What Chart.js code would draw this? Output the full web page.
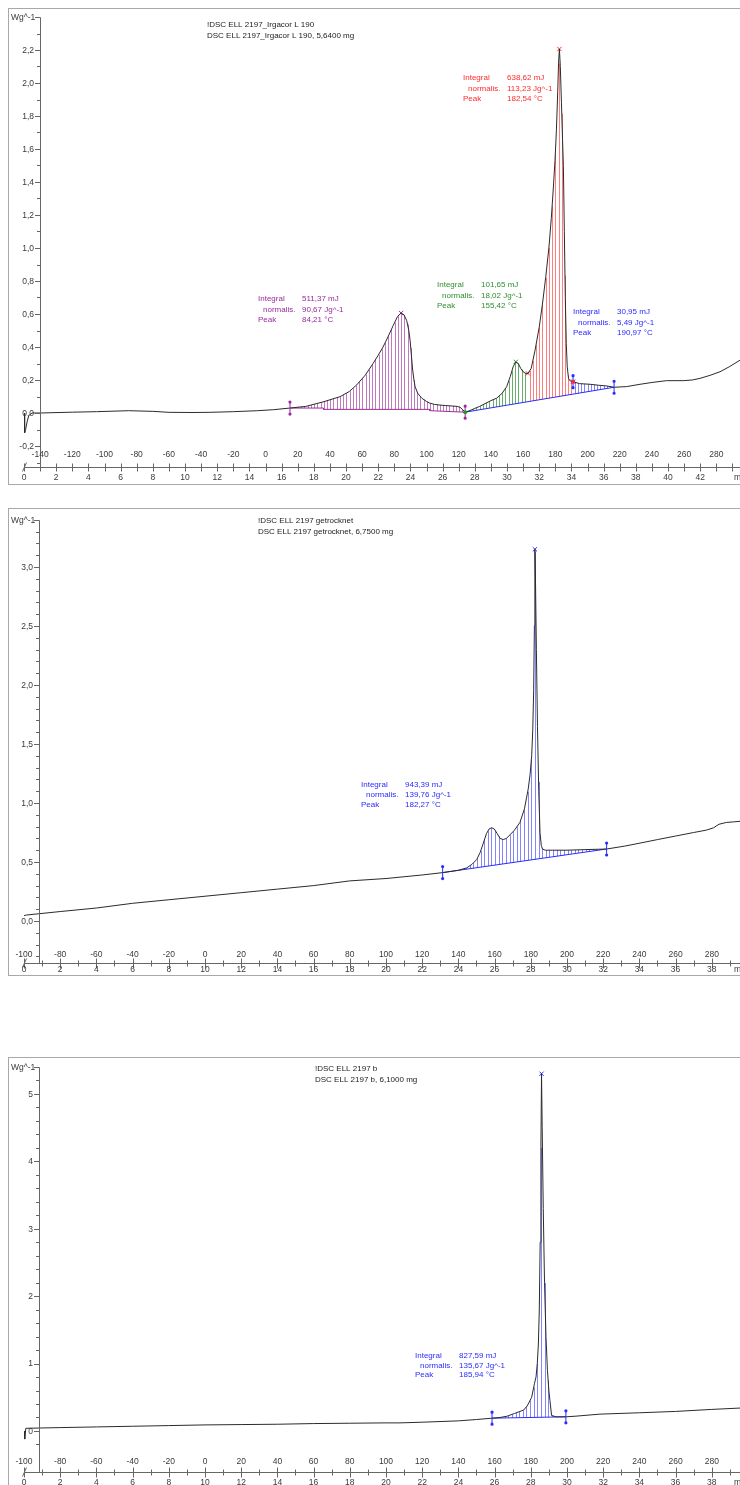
<!DOCTYPE html>
<html><head><meta charset="utf-8">
<script src="https://cdn.jsdelivr.net/npm/chart.js@4.4.1/dist/chart.umd.min.js"></script>
<style>
html,body{margin:0;padding:0;background:#fff;}
body{width:740px;height:1485px;overflow:hidden;position:relative;}
canvas{position:absolute;left:0;}
</style></head><body>
<canvas id="c1" width="740" height="495" style="top:0px"></canvas>
<canvas id="c2" width="740" height="490" style="top:495px"></canvas>
<canvas id="c3" width="740" height="500" style="top:985px"></canvas>
<script>
// ---------------- DATA ----------------
// Panel 1 : DSC ELL 2197_Irgacor L 190 (temperature in °C, heat flow in W/g)
const temp1 = [-150,-149.6,-149,-148,-147,-145,-140,-120,-105,-85,-70,-60,-45,-35,-20,-5,5,15.2,25,35.7,46.3,52,56.6,62,66.8,70,73,76,79.3,82,84.2,86,87.7,89,89.8,90.6,91.4,92.2,92.9,94.5,97,100,102,105,108.4,112,116.5,119,120.8,122.5,124,127,130,133,137,140,143.6,147,149.8,152,153.8,155.4,157,158.5,160,161.5,163,165,167.4,170,172,174,176,177.5,178.8,179.8,180.7,181.5,182,182.54,183.1,183.8,184.5,185,185.6,186.2,186.8,187.4,188.2,189.1,191,195,201.6,207,211.9,216.5,224.3,232.6,240,249,259.4,265,269.9,276,282.3,288,294.7];
const flow1 = [0,-0.12,-0.1,-0.05,-0.015,0,0,0.005,0.008,0.014,0.01,0.004,0.003,0.004,0.008,0.014,0.02,0.03,0.04,0.067,0.099,0.13,0.17,0.23,0.30,0.35,0.40,0.46,0.53,0.585,0.606,0.595,0.56,0.50,0.44,0.35,0.26,0.20,0.16,0.12,0.09,0.07,0.06,0.052,0.048,0.045,0.042,0.04,0.035,0.02,0.005,0.015,0.028,0.04,0.06,0.075,0.09,0.12,0.16,0.22,0.28,0.31,0.30,0.27,0.25,0.24,0.24,0.27,0.38,0.52,0.66,0.82,1.0,1.18,1.37,1.53,1.72,1.95,2.12,2.206,2.1,1.88,1.65,1.50,1.1,0.7,0.42,0.28,0.21,0.195,0.19,0.178,0.174,0.168,0.164,0.156,0.16,0.174,0.185,0.196,0.196,0.20,0.21,0.228,0.25,0.28,0.32];
const purpleBaseT1 = [15.2,36,36.01,102,102.01,124];
const purpleBaseV1 = [0.03,0.03,0.022,0.022,0.014,0.005];
const blueBaseT1 = [124,216.5];
const blueBaseV1 = [0.005,0.156];
const purpleText1 = ['511,37 mJ','90,67 Jg^-1','84,21 °C'];
const greenText1  = ['101,65 mJ','18,02 Jg^-1','155,42 °C'];
const redText1    = ['638,62 mJ','113,23 Jg^-1','182,54 °C'];
const blueText1   = ['30,95 mJ','5,49 Jg^-1','190,97 °C'];
const yTicks1  = [-0.2,0,0.2,0.4,0.6,0.8,1.0,1.2,1.4,1.6,1.8,2.0,2.2];
const yLabels1 = ['-0,2','0,0','0,2','0,4','0,6','0,8','1,0','1,2','1,4','1,6','1,8','2,0','2,2'];
const tempTicks1 = [-140,-120,-100,-80,-60,-40,-20,0,20,40,60,80,100,120,140,160,180,200,220,240,260,280];
const timeTicks1 = [0,2,4,6,8,10,12,14,16,18,20,22,24,26,28,30,32,34,36,38,40,42];

// Panel 2 : DSC ELL 2197 getrocknet
const temp2 = [-100,-99,-80,-60,-40,-20,0,20,40,60,80,100,120,131.3,140,144.6,147.5,150.1,152,153.8,155.5,157,158.4,159.8,161.5,163,164.8,166.5,168.5,171,174,176.5,178.6,179.6,180.5,181.1,181.6,182.0,182.27,182.6,183.1,183.7,184.4,185.1,185.8,186.5,188,192,200,210,221.9,232,240.3,250,260,270,277,281,284,288,292,295.6];
const flow2 = [0.045,0.05,0.08,0.11,0.15,0.18,0.21,0.24,0.27,0.30,0.34,0.36,0.39,0.41,0.43,0.45,0.48,0.52,0.58,0.66,0.74,0.78,0.79,0.78,0.74,0.70,0.69,0.70,0.73,0.77,0.835,0.95,1.12,1.24,1.40,1.62,1.95,2.5,3.15,2.9,2.3,1.65,1.1,0.75,0.64,0.61,0.60,0.60,0.60,0.605,0.61,0.635,0.66,0.69,0.72,0.75,0.77,0.79,0.82,0.835,0.84,0.845];
const baseT2 = [131.3,221.9];
const baseV2 = [0.41,0.61];
const blueText2 = ['943,39 mJ','139,76 Jg^-1','182,27 °C'];
const yTicks2  = [0,0.5,1.0,1.5,2.0,2.5,3.0];
const yLabels2 = ['0,0','0,5','1,0','1,5','2,0','2,5','3,0'];
const tempTicks2 = [-100,-80,-60,-40,-20,0,20,40,60,80,100,120,140,160,180,200,220,240,260,280];
const timeTicks2 = [0,2,4,6,8,10,12,14,16,18,20,22,24,26,28,30,32,34,36,38];

// Panel 3 : DSC ELL 2197 b
const temp3 = [-100,-99.6,-99,-80,-60,-40,-20,0,20,40,60,80,100,107.7,120,140,150,158.6,163,167,171,174,176,178,180.5,182,182.9,183.6,184.2,184.7,185.2,185.6,185.94,186.3,186.9,187.6,188.4,189.2,190,190.6,191.5,194,199.4,205,218.2,240,260,280,295.6];
const flow3 = [0.0,-0.12,0.04,0.05,0.06,0.07,0.08,0.09,0.095,0.10,0.11,0.115,0.12,0.12,0.13,0.15,0.17,0.19,0.2,0.22,0.26,0.29,0.31,0.37,0.5,0.7,0.8,1.0,1.29,1.78,2.8,4.2,5.3,4.5,3.3,2.2,1.4,0.9,0.6,0.45,0.23,0.21,0.21,0.22,0.25,0.27,0.29,0.32,0.34];
const baseT3 = [158.6,199.4];
const baseV3 = [0.19,0.21];
const blueText3 = ['827,59 mJ','135,67 Jg^-1','185,94 °C'];
const yTicks3  = [0,1,2,3,4,5];
const yLabels3 = ['0','1','2','3','4','5'];
const tempTicks3 = tempTicks2;
const timeTicks3 = timeTicks2;

// ---------------- DRAWING ----------------
const FONT = '"Liberation Sans", Arial, Helvetica, sans-serif';
const INK = '#3a3a3a';
const PURPLE = '#9c2a9c', GREEN = '#2f8f2f', RED = '#ff2a2a', BLUE = '#2a2aff';
const HATCH = {purple:'rgba(160,50,160,0.65)', green:'rgba(40,140,40,0.7)', red:'rgba(255,70,70,0.7)', blue:'rgba(50,50,255,0.6)'};

function interp(xs, ys, x) {
  if (x <= xs[0]) return ys[0];
  for (let i = 1; i < xs.length; i++) {
    if (x <= xs[i]) { const f = (x - xs[i-1]) / (xs[i] - xs[i-1]); return ys[i-1] + f * (ys[i] - ys[i-1]); }
  }
  return ys[ys.length-1];
}
function rangeTicks(a, b, s) { const r = []; for (let v = a; v <= b + 1e-9; v += s) r.push(Math.round(v*1000)/1000); return r; }

function makeChart(id, c) {
  const plugin = {
    id: 'dsc_' + id,
    beforeDatasetsDraw(chart) {
      const ctx = chart.ctx, x = chart.scales.x, y = chart.scales.y;
      ctx.save(); ctx.lineWidth = 1;
      for (const r of c.regions) {
        ctx.strokeStyle = r.hatch; ctx.beginPath();
        for (let T = r.from + c.step/2; T < r.to; T += c.step) {
          const px = Math.round(x.getPixelForValue(T)) + 0.5;
          ctx.moveTo(px, y.getPixelForValue(interp(c.curveT, c.curveV, T)));
          ctx.lineTo(px, y.getPixelForValue(interp(r.baseT, r.baseV, T)));
        }
        ctx.stroke();
      }
      ctx.restore();
    },
    afterDraw(chart) {
      const ctx = chart.ctx, x = chart.scales.x, y = chart.scales.y;
      ctx.save();
      // frame
      ctx.strokeStyle = '#a8a8a8'; ctx.lineWidth = 1;
      ctx.strokeRect(c.frame[0] + 0.5, c.frame[1] + 0.5, 900, c.frame[2] - c.frame[1]);
      // limit markers
      for (const m of c.limits) {
        const px = x.getPixelForValue(m.T), py = y.getPixelForValue(interp(c.curveT, c.curveV, m.T));
        ctx.strokeStyle = m.color; ctx.fillStyle = m.color;
        ctx.beginPath(); ctx.moveTo(px, py - 6); ctx.lineTo(px, py + 6); ctx.stroke();
        ctx.beginPath(); ctx.arc(px, py - 6, 1.6, 0, Math.PI*2); ctx.arc(px, py + 6, 1.6, 0, Math.PI*2); ctx.fill();
      }
      for (const d of c.dots) {
        const px = x.getPixelForValue(d.T), py = y.getPixelForValue(interp(c.curveT, c.curveV, d.T));
        ctx.fillStyle = d.color; ctx.beginPath(); ctx.arc(px, py, 2, 0, Math.PI*2); ctx.fill();
      }
      // y axis
      const ax = Math.round(x.getPixelForValue(c.yAxisT)) + 0.5;
      const yTop = Math.round(y.getPixelForValue(c.yTop)) + 0.5;
      ctx.strokeStyle = '#666'; ctx.lineWidth = 1;
      ctx.beginPath(); ctx.moveTo(ax, yTop); ctx.lineTo(ax, c.timeAxisY + 0.5);
      for (const v of c.yMinor) { const py = Math.round(y.getPixelForValue(v)) + 0.5; ctx.moveTo(ax - 3.5, py); ctx.lineTo(ax, py); }
      for (const v of c.yTicks.concat([c.yTop])) { const py = Math.round(y.getPixelForValue(v)) + 0.5; ctx.moveTo(ax - 5.5, py); ctx.lineTo(ax, py); }
      ctx.stroke();
      ctx.fillStyle = INK; ctx.font = '8.5px ' + FONT; ctx.textAlign = 'right'; ctx.textBaseline = 'middle';
      c.yTicks.forEach((v, i) => ctx.fillText(c.yLabels[i], ax - 6.5, y.getPixelForValue(v) + 0.5));
      ctx.textAlign = 'left'; ctx.fillText('Wg^-1', c.frame[0] + 3, yTop);
      // time axis
      const tx = t => x.getPixelForValue(c.T0 + c.rate * t);
      const ay = c.timeAxisY + 0.5;
      ctx.beginPath(); ctx.moveTo(tx(0), ay); ctx.lineTo(chart.width, ay);
      for (let t = 0; t <= 45; t++) {
        const px = Math.round(tx(t)) + 0.5; if (px > chart.width) break;
        const L = (t % 2 === 0) ? c.majorLen : c.minorLen;
        ctx.moveTo(px, ay - L); ctx.lineTo(px, ay + L);
      }
      ctx.stroke();
      ctx.beginPath(); ctx.moveTo(tx(0) - 1.5, ay + 4); ctx.lineTo(tx(0) + 2.5, ay - 5); ctx.stroke();
      ctx.textAlign = 'center';
      c.timeTicks.forEach(t => ctx.fillText(String(t), tx(t), c.timeLabelY));
      c.tempTicks.forEach(T => ctx.fillText(String(T), x.getPixelForValue(T), c.tempLabelY));
      ctx.textAlign = 'left'; ctx.fillText('min', 734, c.timeLabelY);
      // header
      ctx.font = '8px ' + FONT; ctx.fillStyle = '#222';
      ctx.fillText(c.header[0], c.headerPos[0], c.headerPos[1]);
      ctx.fillText(c.header[1], c.headerPos[0], c.headerPos[1] + 11);
      // notes
      const labels = ['Integral', 'normalis.', 'Peak'], indent = [0, 5, 0];
      for (const n of c.notes) {
        ctx.fillStyle = n.color;
        n.values.forEach((v, i) => {
          ctx.fillText(labels[i], n.x + indent[i], n.y + i * c.noteDy);
          ctx.fillText(v, n.x + 44, n.y + i * c.noteDy);
        });
      }
      ctx.restore();
    }
  };
  const datasets = [
    { data: c.curveT.map((t, i) => ({x: t, y: c.curveV[i]})), showLine: true, borderColor: '#2b2b2b', borderWidth: 1, pointRadius: 0, tension: 0 }
  ];
  for (const b of c.baselines) datasets.push({ data: b.T.map((t, i) => ({x: t, y: b.V[i]})), showLine: true, borderColor: b.color, borderWidth: 1, pointRadius: 0, tension: 0 });
  for (const p of c.peaks) datasets.push({ data: [{x: p.T, y: interp(c.curveT, c.curveV, p.T)}], showLine: false, pointStyle: 'crossRot', pointRadius: 3, borderColor: p.color, borderWidth: 1 });
  return new Chart(document.getElementById(id), {
    type: 'scatter',
    data: { datasets },
    options: {
      responsive: false, animation: false, devicePixelRatio: 1, events: [],
      layout: { padding: c.padding, autoPadding: false },
      plugins: { legend: { display: false }, tooltip: { enabled: false } },
      scales: {
        x: { type: 'linear', display: false, min: c.xMin, max: c.xMax },
        y: { type: 'linear', display: false, min: c.yMin, max: c.yMax }
      }
    },
    plugins: [plugin]
  });
}

function minorList(a, b, s, majors) {
  return rangeTicks(a, b, s).filter(v => !majors.some(m => Math.abs(m - v) < 1e-6));
}

makeChart('c1', {
  curveT: temp1, curveV: flow1,
  xMin: -150, xMax: 294.7, yMin: -0.3, yMax: 2.4,
  padding: {left: 24, right: 0, top: 17, bottom: 32.5},
  frame: [8, 8, 484], yAxisT: -140, yTop: 2.4,
  yTicks: yTicks1, yLabels: yLabels1, yMinor: minorList(-0.3, 2.3, 0.1, yTicks1),
  T0: -150, rate: 10, timeAxisY: 467, tempLabelY: 455, timeLabelY: 478, majorLen: 4, minorLen: 4,
  tempTicks: tempTicks1, timeTicks: timeTicks1,
  step: 2,
  baselines: [{T: purpleBaseT1, V: purpleBaseV1, color: PURPLE}, {T: blueBaseT1, V: blueBaseV1, color: BLUE}],
  regions: [
    {from: 15.2, to: 124, baseT: purpleBaseT1, baseV: purpleBaseV1, hatch: HATCH.purple},
    {from: 124, to: 163, baseT: blueBaseT1, baseV: blueBaseV1, hatch: HATCH.green},
    {from: 163, to: 191, baseT: blueBaseT1, baseV: blueBaseV1, hatch: HATCH.red},
    {from: 191, to: 216.5, baseT: blueBaseT1, baseV: blueBaseV1, hatch: HATCH.blue}
  ],
  peaks: [{T: 84.21, color: PURPLE}, {T: 155.42, color: GREEN}, {T: 163, color: RED}, {T: 182.54, color: RED}, {T: 191, color: BLUE}],
  limits: [{T: 15.2, color: PURPLE}, {T: 124, color: PURPLE}, {T: 191, color: BLUE}, {T: 216.5, color: BLUE}],
  dots: [{T: 124, color: GREEN}, {T: 191, color: RED}],
  header: ['!DSC ELL 2197_Irgacor L 190', 'DSC ELL 2197_Irgacor L 190, 5,6400 mg'], headerPos: [207, 25],
  noteDy: 10.5,
  notes: [
    {x: 258, y: 299, color: PURPLE, values: purpleText1},
    {x: 437, y: 285, color: GREEN, values: greenText1},
    {x: 463, y: 78, color: RED, values: redText1},
    {x: 573, y: 312, color: BLUE, values: blueText1}
  ]
});

makeChart('c2', {
  curveT: temp2, curveV: flow2,
  xMin: -100, xMax: 295.6, yMin: -0.3, yMax: 3.4,
  padding: {left: 24, right: 0, top: 24.8, bottom: 28.6},
  frame: [8, 13, 480], yAxisT: -91.7, yTop: 3.4,
  yTicks: yTicks2, yLabels: yLabels2, yMinor: minorList(-0.3, 3.3, 0.1, yTicks2),
  T0: -100, rate: 10, timeAxisY: 468, tempLabelY: 460, timeLabelY: 475, majorLen: 5, minorLen: 3,
  tempTicks: tempTicks2, timeTicks: timeTicks2,
  step: 2,
  baselines: [{T: baseT2, V: baseV2, color: BLUE}],
  regions: [{from: 131.3, to: 221.9, baseT: baseT2, baseV: baseV2, hatch: HATCH.blue}],
  peaks: [{T: 182.27, color: BLUE}],
  limits: [{T: 131.3, color: BLUE}, {T: 221.9, color: BLUE}],
  dots: [],
  header: ['!DSC ELL 2197 getrocknet', 'DSC ELL 2197 getrocknet, 6,7500 mg'], headerPos: [258, 26],
  noteDy: 10,
  notes: [{x: 361, y: 290, color: BLUE, values: blueText2}]
});

makeChart('c3', {
  curveT: temp3, curveV: flow3,
  xMin: -100, xMax: 295.6, yMin: -0.3, yMax: 5.4,
  padding: {left: 24, right: 0, top: 82, bottom: 33.8},
  frame: [8, 72, 560], yAxisT: -91.7, yTop: 5.4,
  yTicks: yTicks3, yLabels: yLabels3, yMinor: minorList(-0.2, 5.2, 0.2, yTicks3),
  T0: -100, rate: 10, timeAxisY: 487, tempLabelY: 477, timeLabelY: 498, majorLen: 5, minorLen: 3,
  tempTicks: tempTicks3, timeTicks: timeTicks3,
  step: 2,
  baselines: [{T: baseT3, V: baseV3, color: BLUE}],
  regions: [{from: 158.6, to: 199.4, baseT: baseT3, baseV: baseV3, hatch: HATCH.blue}],
  peaks: [{T: 185.94, color: BLUE}],
  limits: [{T: 158.6, color: BLUE}, {T: 199.4, color: BLUE}],
  dots: [],
  header: ['!DSC ELL 2197 b', 'DSC ELL 2197 b, 6,1000 mg'], headerPos: [315, 84],
  noteDy: 9.5,
  notes: [{x: 415, y: 371, color: BLUE, values: blueText3}]
});
</script></body></html>
